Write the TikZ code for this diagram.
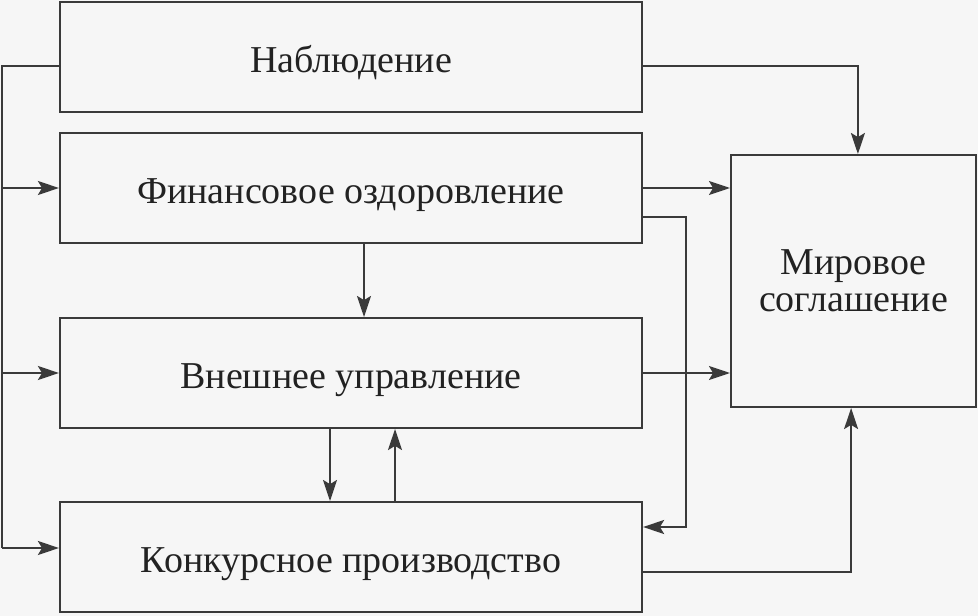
\documentclass[tikz,border=0pt]{standalone}
\usepackage{fontspec}
\setmainfont{Liberation Serif}
\usetikzlibrary{arrows.meta}
\definecolor{bggray}{HTML}{F6F6F6}
\definecolor{linegray}{HTML}{3A3A3A}
\definecolor{textgray}{HTML}{222222}

\begin{document}
\begin{tikzpicture}[
    x=0.025cm, y=-0.025cm,
    box/.style={rectangle, draw=linegray, line width=1.4pt, fill=bggray,
        inner sep=0pt, text=textgray, font=\fontsize{27}{26.5}\selectfont},
    stage/.style={box, minimum width=14.55cm, minimum height=2.75cm,
        text height=23pt, text depth=1pt},
    result/.style={box, minimum width=6.125cm, minimum height=6.3cm,
        align=center},
    link/.style={draw=linegray, line width=1.1pt},
    arr/.style={link, -{Stealth[length=15pt, width=10pt, inset=3pt]}}
]
    \fill[bggray] (0,0) rectangle (978,616);
    \useasboundingbox (0,0) rectangle (978,616);
    \node[stage] (nab) at (351,57) {Наблюдение};
    \node[stage] (fin) at (351,188) {Финансовое оздоровление};
    \node[stage] (vn) at (351,373) {Внешнее управление};
    \node[stage] (kon) at (351,557) {Конкурсное производство};
    \node[result] (mir) at (853.5,281) {Мировое\\соглашение};
    \coordinate (trunk) at (2,548);
    \coordinate (back) at (686,527);
    % left side
    \draw[link] ([yshift=-0.225cm]nab.west) -| (trunk);
    \draw[arr] (trunk |- fin.west) -- (fin.west);
    \draw[arr] (trunk |- vn.west) -- (vn.west);
    \draw[arr] (trunk) -- (trunk -| kon.west);
    % right side
    \draw[arr] ([yshift=-0.225cm]nab.east) -| ([xshift=0.11cm]mir.north);
    \draw[arr] (fin.east) -- (fin.east -| mir.west);
    \draw[arr] ([yshift=-0.725cm]fin.east) -| (back) -- (back -| kon.east);
    \draw[arr] (vn.east) -- (vn.east -| mir.west);
    \draw[arr] ([yshift=-0.375cm]kon.east) -| ([xshift=-0.06cm]mir.south);
    % between stages
    \draw[arr] ([xshift=0.325cm]fin.south) -- ([xshift=0.325cm]vn.north);
    \draw[arr] ([xshift=-0.525cm]vn.south) -- ([xshift=-0.525cm]kon.north);
    \draw[arr] ([xshift=1.1cm]kon.north) -- ([xshift=1.1cm]vn.south);
\end{tikzpicture}
\end{document}
